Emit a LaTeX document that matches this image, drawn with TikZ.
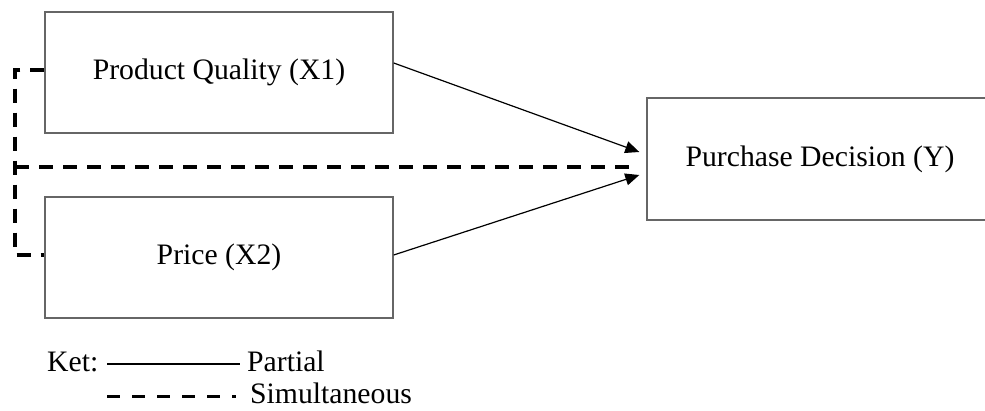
\documentclass[tikz,border=0pt]{standalone}
\usepackage{fontspec}
\setmainfont{Liberation Serif}
\usetikzlibrary{arrows.meta}
\begin{document}
\begin{tikzpicture}[x=1pt, y=-1pt,
      var/.style={draw=black!60, line width=1.4pt, minimum width=348pt,
        minimum height=121pt, font=\fontsize{29.7}{34}\selectfont},
      partial/.style={line width=1.2pt, -{Triangle[length=14pt,width=12pt]}},
      simul/.style={line width=3.4pt, dash pattern=on 14pt off 10pt},
      legend/.style={font=\fontsize{29.7}{34}\selectfont, anchor=base west,
        inner sep=0pt}
    ]
    \useasboundingbox (0,0) rectangle (985,411);

    % Variables
    \node[var] (x1) at (219,72.5) {Product Quality (X1)};
    \node[var] (x2) at (219,257.5) {Price (X2)};
    \node[var, minimum width=346pt, minimum height=122pt] (y) at (820,159)
      {Purchase Decision (Y)};

    % Partial effects
    \draw[partial] ([yshift=9.5pt]x1.east) -- ([xshift=-7pt,yshift=7pt]y.west);
    \draw[partial] ([yshift=2.5pt]x2.east) -- ([xshift=-7pt,yshift=-16pt]y.west);

    % Simultaneous effect
    \coordinate (top) at (15,70);
    \coordinate (mid) at (15,167);
    \coordinate (bot) at (15,255);
    \draw[simul] ([yshift=2.5pt]x1.west) -- (top) -- (bot)
      -- ([yshift=2.5pt]x2.west);
    \draw[simul] (mid) -- ([xshift=-13pt,yshift=-8pt]y.west);

    % Legend
    \node[legend] (ket) at (47,372) {Ket:};
    \node[legend] (lpart) at (247,372) {Partial};
    \node[legend] (lsim) at (250,403) {Simultaneous};
    \draw[line width=1.1pt] (107,364) -- (240,364);
    \draw[line width=3pt, dash pattern=on 13pt off 12pt] (107,396) -- (236,396);
  \end{tikzpicture}
\end{document}
